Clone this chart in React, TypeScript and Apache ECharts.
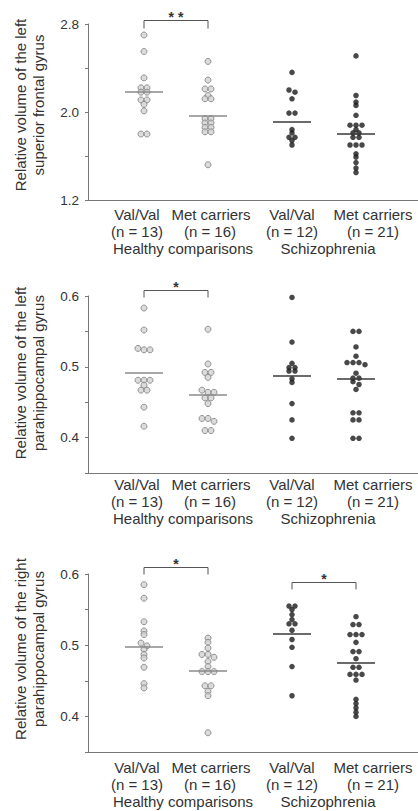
import React, { useEffect, useRef } from "react";
import * as echarts from "echarts";

// ---------- data ----------
const groupLabels = ["Val/Val", "Met carriers", "Val/Val", "Met carriers"];
const groupCounts = ["(n = 13)", "(n = 16)", "(n = 12)", "(n = 21)"];
const diagnosisLabels = ["Healthy comparisons", "Schizophrenia"];

const sfgTitle = ["Relative volume of the left", "superior frontal gyrus"];
const lphgTitle = ["Relative volume of the left", "parahippocampal gyrus"];
const rphgTitle = ["Relative volume of the right", "parahippocampal gyrus"];

const sfgHcValVal = [2.70, 2.55, 2.31, 2.22, 2.22, 2.18, 2.18, 2.11, 2.11, 2.07, 2.01, 1.80, 1.80];
const sfgHcMet = [2.46, 2.29, 2.21, 2.21, 2.15, 2.12, 2.12, 1.94, 1.94, 1.90, 1.90, 1.86, 1.86, 1.82, 1.82, 1.52];
const sfgSzValVal = [2.36, 2.20, 2.18, 2.12, 1.99, 1.99, 1.84, 1.81, 1.77, 1.77, 1.74, 1.70];
const sfgSzMet = [2.51, 2.15, 2.09, 2.06, 1.97, 1.88, 1.88, 1.88, 1.84, 1.81, 1.81, 1.77, 1.77, 1.70, 1.70, 1.70, 1.62, 1.59, 1.54, 1.49, 1.45];
const sfgMeans = [2.18, 1.97, 1.91, 1.80];

const lphgHcValVal = [0.583, 0.552, 0.526, 0.524, 0.524, 0.481, 0.481, 0.481, 0.474, 0.467, 0.467, 0.443, 0.416];
const lphgHcMet = [0.553, 0.504, 0.492, 0.492, 0.485, 0.467, 0.464, 0.464, 0.456, 0.456, 0.448, 0.427, 0.427, 0.423, 0.410, 0.410];
const lphgSzValVal = [0.598, 0.535, 0.505, 0.499, 0.499, 0.494, 0.494, 0.483, 0.478, 0.448, 0.425, 0.399];
const lphgSzMet = [0.603, 0.550, 0.550, 0.528, 0.515, 0.506, 0.506, 0.506, 0.503, 0.491, 0.484, 0.484, 0.479, 0.475, 0.468, 0.435, 0.435, 0.425, 0.425, 0.399, 0.399];
const lphgMeans = [0.492, 0.460, 0.4875, 0.483];

const rphgHcValVal = [0.585, 0.566, 0.533, 0.520, 0.515, 0.503, 0.499, 0.494, 0.487, 0.482, 0.469, 0.446, 0.440];
const rphgHcMet = [0.510, 0.504, 0.496, 0.487, 0.487, 0.483, 0.477, 0.470, 0.463, 0.463, 0.463, 0.443, 0.443, 0.435, 0.429, 0.377];
const rphgSzValVal = [0.555, 0.555, 0.550, 0.543, 0.536, 0.530, 0.530, 0.521, 0.508, 0.497, 0.470, 0.429];
const rphgSzMet = [0.540, 0.529, 0.529, 0.515, 0.515, 0.515, 0.504, 0.491, 0.491, 0.481, 0.469, 0.469, 0.459, 0.459, 0.459, 0.451, 0.424, 0.418, 0.412, 0.406, 0.400];
const rphgMeans = [0.498, 0.4645, 0.516, 0.476];

const sfgTicks = { min: 1.2, max: 2.8, interval: 0.4, labelled: [1.2, 2.0, 2.8] };
const phgTicks = { min: 0.35, max: 0.6, interval: 0.05, labelled: [0.4, 0.5, 0.6] };

const sfgSignificance = [{ from: 0, to: 1, mark: "* *" }];
const lphgSignificance = [{ from: 0, to: 1, mark: "*" }];
const rphgSignificance = [{ from: 0, to: 1, mark: "*" }, { from: 2, to: 3, mark: "*" }];

// ---------- layout ----------
const W = 418;
const H = 811;
const GRID_LEFT = 88;
const GRID_WIDTH = W - GRID_LEFT;
const groupCenters = [56, 120, 204, 268]; // in grid px units (x axis spans 0..GRID_WIDTH)
const labelX = [137, 211, 292, 373];
const countX = [137, 210, 292, 373];
const diagX = [183, 328];
const FONT = "'Liberation Sans', Arial, sans-serif";
const TEXT = "#333";
const AXIS = "#777";

const panels = [
  {
    title: sfgTitle, ticks: sfgTicks, groups: [sfgHcValVal, sfgHcMet, sfgSzValVal, sfgSzMet], means: sfgMeans,
    sig: sfgSignificance, top: 24, height: 176, titleY: 105, labelY: [214, 231, 248],
    bracketY: [20], bracketDrop: 8,
  },
  {
    title: lphgTitle, ticks: phgTicks, groups: [lphgHcValVal, lphgHcMet, lphgSzValVal, lphgSzMet], means: lphgMeans,
    sig: lphgSignificance, top: 296, height: 177, titleY: 373, labelY: [484, 501, 518],
    bracketY: [290], bracketDrop: 7,
  },
  {
    title: rphgTitle, ticks: phgTicks, groups: [rphgHcValVal, rphgHcMet, rphgSzValVal, rphgSzMet], means: rphgMeans,
    sig: rphgSignificance, top: 574, height: 178, titleY: 649, labelY: [767, 784, 801],
    bracketY: [567, 582], bracketDrop: 7,
  },
];

function swarm(values: number[], pxPerUnit: number, spacing: number, thresh: number) {
  const sorted = [...values].sort((a, b) => b - a);
  const rows: number[][] = [];
  for (const v of sorted) {
    const last = rows[rows.length - 1];
    if (last && (last[0] - v) * pxPerUnit < thresh) last.push(v);
    else rows.push([v]);
  }
  const out: { v: number; dx: number }[] = [];
  rows.forEach((r) => r.forEach((v, i) => out.push({ v, dx: (i - (r.length - 1) / 2) * spacing })));
  return out;
}

function txt(text: string, x: number, y: number, size: number, extra: any = {}, weight: string = "normal") {
  return {
    type: "text",
    x,
    y,
    silent: true,
    ...extra,
    style: {
      text,
      fill: TEXT,
      fontSize: size,
      fontWeight: weight,
      fontFamily: FONT,
      align: "center",
      verticalAlign: "middle",
      textAlign: "center",
      textVerticalAlign: "middle",
    },
  };
}

export default function App() {
  const ref = useRef<HTMLDivElement>(null);
  useEffect(() => {
    if (!ref.current) return;
    const chart = echarts.init(ref.current, null, { renderer: "svg" });

    const grid: any[] = [];
    const xAxis: any[] = [];
    const yAxis: any[] = [];
    const series: any[] = [];
    const graphic: any[] = [];

    panels.forEach((p, pi) => {
      grid.push({ left: GRID_LEFT, top: p.top, width: GRID_WIDTH, height: p.height });
      xAxis.push({
        type: "value", gridIndex: pi, min: 0, max: GRID_WIDTH,
        axisLine: { show: true, onZero: false, lineStyle: { color: AXIS, width: 1 } },
        axisTick: { show: false }, axisLabel: { show: false }, splitLine: { show: false },
      });
      const t = p.ticks;
      yAxis.push({
        type: "value", gridIndex: pi, min: t.min, max: t.max, interval: t.interval,
        axisLine: { show: true, onZero: false, lineStyle: { color: AXIS, width: 1 } },
        axisTick: { show: true, length: 3, lineStyle: { color: AXIS } },
        splitLine: { show: false },
        axisLabel: {
          margin: 9, fontSize: 13.5, fontFamily: FONT, color: TEXT,
          formatter: (v: number) => (t.labelled.some((l) => Math.abs(l - v) < 1e-6) ? v.toFixed(1) : ""),
        },
      });
      const pxPerUnit = p.height / (t.max - t.min);
      p.groups.forEach((vals, gi) => {
        const hc = gi < 2;
        const c = groupCenters[gi];
        const pts = swarm(vals, pxPerUnit, 6, 3);
        series.push({
          type: "scatter", xAxisIndex: pi, yAxisIndex: pi, silent: true,
          symbol: "circle", symbolSize: hc ? 6 : 5.5,
          itemStyle: hc
            ? { color: "#d2d2d2", borderColor: "#7c7c7c", borderWidth: 1 }
            : { color: "#1a1a1a", borderWidth: 0 },
          data: pts.map((d) => [c + d.dx, d.v]),
          markLine: {
            silent: true, symbol: ["none", "none"], label: { show: false },
            lineStyle: { color: hc ? "#8a8a8a" : "#3a3a3a", width: 1.5, type: "solid" },
            data: [[{ coord: [c - 19, p.means[gi]] }, { coord: [c + 19, p.means[gi]] }]],
          },
        });
      });

      // axis titles
      graphic.push(txt(p.title[0], 20.5, p.titleY, 15, { rotation: Math.PI / 2 }));
      graphic.push(txt(p.title[1], 38, p.titleY, 15, { rotation: Math.PI / 2 }));
      // category labels
      groupLabels.forEach((l, i) => graphic.push(txt(l, labelX[i], p.labelY[0], 15)));
      groupCounts.forEach((l, i) => graphic.push(txt(l, countX[i], p.labelY[1], 15)));
      diagnosisLabels.forEach((l, i) => graphic.push(txt(l, diagX[i], p.labelY[2], 15)));
      // significance brackets
      p.sig.forEach((s, si) => {
        const y = p.bracketY[si] + 0.5;
        const x1 = GRID_LEFT + groupCenters[s.from];
        const x2 = GRID_LEFT + groupCenters[s.to];
        graphic.push({
          type: "polyline", silent: true,
          shape: { points: [[x1, y + p.bracketDrop], [x1, y], [x2, y], [x2, y + p.bracketDrop]] },
          style: { stroke: "#555", fill: "none", lineWidth: 1 },
        });
        graphic.push(txt(s.mark, (x1 + x2) / 2, y - 4, 14, {}, "bold"));
      });
    });

    chart.setOption({
      animation: false,
      backgroundColor: "#fff",
      grid, xAxis, yAxis, series, graphic,
    });
    return () => chart.dispose();
  }, []);
  return <div ref={ref} style={{ position: "absolute", left: 0, top: 0, width: W, height: H }} />;
}
